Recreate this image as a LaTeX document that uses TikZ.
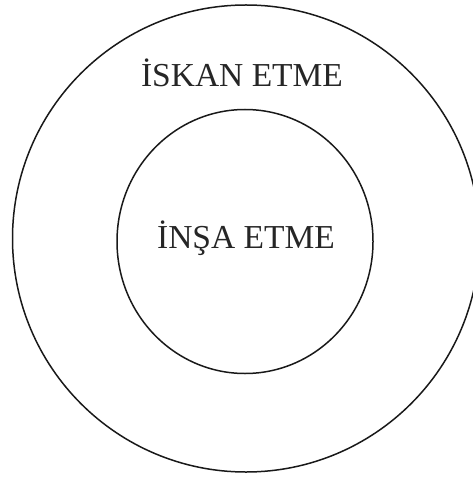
\documentclass[tikz,border=0pt]{standalone}
\usepackage{fontspec}
\setmainfont{Liberation Serif}
\begin{document}
\begin{tikzpicture}[x=1pt,y=-1pt,
  ring/.style={draw=black!90,line width=1.5pt},
  lbl/.style={font=\fontsize{33.5}{36}\selectfont,text=black!85,anchor=base,inner sep=0pt}]
\useasboundingbox (0,0) rectangle (472,478);
\draw[ring] (246,238.5) ellipse [x radius=233.5, y radius=233.5];
\draw[ring] (245,241.5) ellipse [x radius=128, y radius=132];
\node[lbl] (outer) at (242,87) {İSKAN ETME};
\node[lbl] (inner) at (246,248) {İNŞA ETME};
\end{tikzpicture}
\end{document}
